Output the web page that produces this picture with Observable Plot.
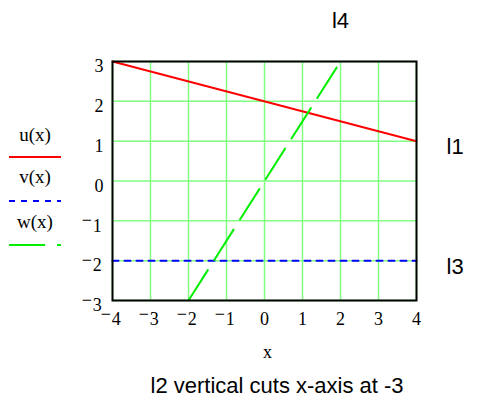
<!DOCTYPE html>
<html>
<head>
<meta charset="utf-8">
<script src="https://cdn.jsdelivr.net/npm/d3@7"></script>
<script src="https://cdn.jsdelivr.net/npm/@observablehq/plot@0.6"></script>
<style>
  html, body { margin: 0; padding: 0; background: white; }
</style>
</head>
<body>
<div id="chart"></div>
<script>
// Tick values on both axes
const xTicks = [-4, -3, -2, -1, 0, 1, 2, 3, 4];
const yTicks = [-3, -2, -1, 0, 1, 2, 3];

// u(x) = 2 - x/4
const uX = [-4, 4];
const uY = [3, 1];
// v(x) = -2
const vX = [-4, 4];
const vY = [-2, -2];
// w(x) = 1.5x
const wX = [-2, 2];
const wY = [-3, 3];

// Legend entries
const legendNames = ["u(x)", "v(x)", "w(x)"];

// Line annotations
const noteText = ["l1", "l3", "l4", "l2 vertical cuts x-axis at -3"];
const noteX = [4, 4, 2, -3];
const noteY = [1, -2, 3, -3];

const colors = {u: "#ff0000", v: "#0000ff", w: "#00ee00", grid: "#80ff80"};
const dashes = {u: null, v: "6,6", w: "36,12"};

const fmt = d => d < 0 ? "\u2212" + Math.abs(d) : String(d);
const series = (xs, ys) => xs.map((x, i) => ({x, y: ys[i]}));

const serif = "'Liberation Serif', 'Times New Roman', serif";
const sans = "'Liberation Sans', Arial, sans-serif";

const notes = noteText.map((t, i) => ({t, x: noteX[i], y: noteY[i]}));

const chart = Plot.plot({
  width: 481,
  height: 403,
  marginLeft: 112,
  marginRight: 65,
  marginTop: 61,
  marginBottom: 103,
  style: {fontFamily: serif, fontSize: "18px", background: "white", color: "black", overflow: "visible"},
  x: {domain: [-4, 4]},
  y: {domain: [-3, 3]},
  marks: [
    Plot.gridX(xTicks, {stroke: colors.grid, strokeOpacity: 1, strokeWidth: 1.5}),
    Plot.gridY(yTicks, {stroke: colors.grid, strokeOpacity: 1, strokeWidth: 1.5}),
    Plot.line(series(uX, uY), {x: "x", y: "y", stroke: colors.u, strokeWidth: 2}),
    Plot.line(series(vX, vY), {x: "x", y: "y", stroke: colors.v, strokeWidth: 2, strokeDasharray: dashes.v}),
    Plot.line(series(wX, wY), {x: "x", y: "y", stroke: colors.w, strokeWidth: 2, strokeDasharray: dashes.w}),
    Plot.frame({stroke: "black", strokeWidth: 2}),
    Plot.axisX(xTicks, {tickSize: 0, tickPadding: 12, tickFormat: fmt, label: null, fontSize: 18}),
    Plot.axisY(yTicks, {tickSize: 0, tickPadding: 9, tickFormat: fmt, label: null, fontSize: 18, dy: 5}),
    Plot.text(["x"], {x: 0, y: -3, dx: 3, dy: 52, fontSize: 18}),
    Plot.text(notes.slice(0, 2), {x: "x", y: "y", text: "t", textAnchor: "start", dx: 30, dy: 6, fontFamily: sans, fontSize: 22}),
    Plot.text(notes.slice(2, 3), {x: "x", y: "y", text: "t", dy: -41, fontFamily: sans, fontSize: 22}),
    Plot.text(notes.slice(3), {x: "x", y: "y", text: "t", textAnchor: "start", dy: 85, fontFamily: sans, fontSize: 22})
  ]
});

document.getElementById("chart").appendChild(chart);

const svg = d3.select(chart);

// Raise the minus sign of negative tick labels above the digit
svg.selectAll("g[aria-label='x-axis tick label'] text, g[aria-label='y-axis tick label'] text").each(function () {
  const el = d3.select(this);
  const s = el.text();
  if (s.startsWith("\u2212")) {
    el.text(null);
    el.append("tspan").attr("dy", "-0.3em").attr("dx", "-0.1em").text("\u2212");
    el.append("tspan").attr("dy", "0.3em").attr("dx", "0.05em").text(s.slice(1));
  }
});

// Legend at the left: name above a short sample of each line
const legend = svg.append("g").attr("font-family", serif).attr("font-size", 19);
const keys = ["u", "v", "w"];
const textBase = [141, 183, 228];
const lineY = [157, 201, 245];
legendNames.forEach((name, i) => {
  legend.append("text").attr("x", 35).attr("y", textBase[i]).attr("text-anchor", "middle").attr("fill", "black").text(name);
  legend.append("line")
    .attr("x1", 9).attr("x2", 61).attr("y1", lineY[i]).attr("y2", lineY[i])
    .attr("stroke", colors[keys[i]]).attr("stroke-width", 2)
    .attr("stroke-dasharray", dashes[keys[i]]);
});
</script>
</body>
</html>
